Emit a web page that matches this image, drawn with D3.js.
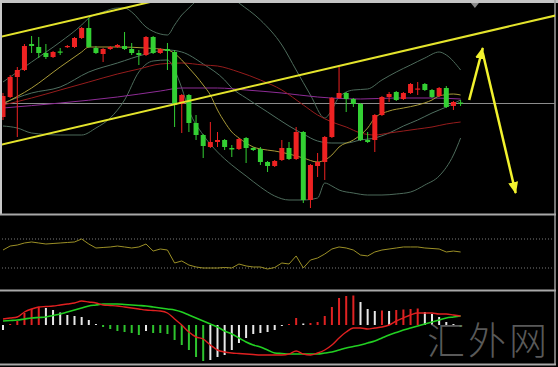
<!DOCTYPE html>
<html>
<head>
<meta charset="utf-8">
<script src="https://cdn.jsdelivr.net/npm/d3@7"></script>
<style>
  body { margin: 0; background: #000; }
  svg { display: block; }
</style>
</head>
<body>
<svg id="chart" width="558" height="367"></svg>
<script>
// candles, price in points (index 0..64)
const opens  = [96,116,136,143,169,166,160,156,161.5,166,166,175,185,165,159,164,166,167,164,160,158,176,160,164,161,109,118,90,78,66,71,73,65,64,75,65,64,51,47,53,65,54,81,13,47,51,76,115,120,114,109,73,73,98,116,121,114,120,123.5,129,123,117,125,107,110.5]
const highs  = [120,138,146,169,177,176,169,162,165,168,176,186,195,167,165,167,169,181,170,163,177,177,165,170,163,119,119,98,79,91,81,74,68,75,76,66,66,52,53,73,71,86,82,49,60,77,116,146,121,115,110,81,99,117,121,122,121,130,131,130,124,126,127,112,113]
const lows   = [93,115,76,142,160,155,154,155,158,165,165,174,165,159,151,163,165,163,158,148,157,159,159,143,86,80,81,73,55,65,66,63,56,63,50,62,48,41,46,52,53,53,10,5,36,33,75,114,101,106,72,70,61,97,111,112,113,119,118,122,115,116,105,103,107]
const closes = [117,136,143,167,167,160,156,161,160.5,167,175,185,166,160,164,166,168,164,160,158,176,160,164,162,108,118,90,78,67,71,73,66,63.5,74,65,63,51,47,52,65,54,81,13,48,51,76,115,120,114,109,73,71,98,116,119,113,120,129,124.5,123,116,125,106,111,109.5]

// overlays read as [candle index, price]
const bbUpper = [[0,131],[4,151],[8,171],[11,188],[12,195],[14,201],[16,205],[17,205],[18,201],[20,186],[22,179],[23,178],[24,188],[25,198],[26,205],[27,212],[29,221],[31,221],[33,210],[36,193],[39,168],[41,143],[43,118],[45,95],[46,103],[47,116],[49,123],[51,124],[53,133],[55,141],[57,148],[59,155],[61,161],[62,158],[64,143]]
const bbMiddle = [[0,110],[4,120],[8,126],[12,141],[16,150],[20,159],[23,163],[25,161],[28,149],[31,133],[32,125],[34,115],[37,101],[40,87],[42,79],[44,72],[46,70],[48,70],[50,73],[52,75],[54,80],[56,87],[58,93],[60,100],[62,106],[64,113]]
const bbLower = [[0,87],[2,85],[4,80],[8,78],[11,78],[13,85],[15,95],[17,113],[19,141],[21,152],[23,153],[24,143],[25,125],[26,103],[28,78],[30,61],[32,48],[34,37],[36,26],[38,17],[40,13],[42,13],[44,15],[45,30],[46,27],[47,23],[49,20],[51,18],[53,18],[55,19],[57,21],[59,28],[61,37],[63,58],[64,75]]
const maFast = [[0,109],[4,125],[8,146],[11,161],[12,166],[16,166],[20,165],[23,163],[25,153],[26,145],[27,137],[28,128],[29,118],[30,103],[31,91],[32,81],[33,75],[34,70],[35,66],[36,64],[38,62],[40,59],[42,55],[44,51],[45,53],[46,58],[47,66],[49,73],[51,85],[52,95],[54,102],[56,105],[58,108],[60,113],[61,117],[63,119],[64,118]]
const maRed = [[0,108],[4,115],[8,123],[12,131],[16,139],[19,144],[22,149],[25,150],[28,148],[30,147],[33,141],[36,133],[39,123],[42,108],[44,98],[46,91],[48,86],[50,80],[52,78],[54,80],[56,82],[58,84],[60,86],[62,89],[64,91]]
const maPurple = [[0,105],[8,110],[16,116],[22,122],[25,125],[30,125],[34,123],[39,120],[44,116],[50,114],[55,115],[60,115],[64,114]]

// drawn channel and forecast arrows
const channelLower = [[-1,67],[78,198.7]]
const channelUpper = [[-1,175],[78,306.7]]
const forecast = [[65.2,113],[67.1,165],[71.7,20]]
const shiftMark = 66

// RSI
const rsi = [54.8,60.3,61.7,64.5,65.9,64.5,63.1,63.8,64.5,65.2,65.9,70,63.1,57.6,58.3,59,60.3,59,57.6,59,63.1,53.4,56.2,54.8,36.9,39.7,34.1,31.4,30,30,30,30.7,30,35.5,32.8,31.4,31.4,28.6,30.7,36.9,35.5,46.6,30,41,43.8,49.3,56.2,59,57.6,54.8,47.9,46.6,52.1,54.8,56.2,57.6,59,59,59,57.6,56.9,56.2,52.1,53.4,52.1]
const rsiLevels = [70, 30]

// MACD
const macdHist = [-5,1,4,12,16,18,17,15,12.5,10,9,8,5,1,-2,-4,-6,-7,-8,-10,-6,-8,-8,-9,-15,-20,-25,-32,-36,-35,-32,-30,-25,-18,-13,-9,-8,-7,-5,-1,1,7,1.5,2,3,9,18,27,29,29.5,23,16,14,14.5,14,15,15.5,16,16.5,13,11,8,3,1,-2]
const macdLine = [6,7,8,13,16,18,18.5,19,20,21,22,24,23,22,20,19.5,19,18,17,16,15,14.5,14,12,6,0,-7,-12,-14,-20,-25,-27,-28,-28.5,-29,-29.5,-30,-30,-30,-30,-29,-26,-29,-30,-28,-25,-20,-13,-7,-3,-3,-4,-3,-2,0,4,7,10,12,12,12,11,11,10,9]
const signalLine = [4,4.5,5,6,7,7.5,8,9.5,11,13,15,17,19,20,21,21,21,20.5,20,19.5,19,18,17,16,15,13,10,7,4,1,-2,-6,-9,-13,-17,-20,-22,-25,-28,-28.5,-29,-29,-29,-29,-29,-28,-27,-25,-23,-21.5,-20,-18,-16,-13,-10,-7.5,-5,-3,-1,1,3,5,7,8,9]

const watermark = '汇外网'

const svg = d3.select('#chart')
const width = 558
const height = 367

const x = d3.scaleLinear().domain([0, 64]).range([3, 460.6])
const yMain = d3.scaleLinear().domain([0, 210]).range([213, 3])
const yOsc = d3.scaleLinear().domain([0, 100]).range([289.75, 217.25])
const yMacd = d3.scaleLinear().domain([-40, 34]).range([365, 291])

svg.append('rect').attr('width', width).attr('height', height).attr('fill', '#000')

const defs = svg.append('defs')
defs.append('clipPath').attr('id', 'clipMain')
  .append('rect').attr('x', 2).attr('y', 3).attr('width', 553).attr('height', 211)
defs.append('marker')
  .attr('id', 'head')
  .attr('viewBox', '0 0 12 10')
  .attr('refX', 11).attr('refY', 5)
  .attr('markerWidth', 12).attr('markerHeight', 10)
  .attr('markerUnits', 'userSpaceOnUse')
  .attr('orient', 'auto')
  .append('path').attr('d', 'M0,0 L12,5 L0,10 Z').attr('fill', '#f2f22e')

// frame
svg.append('rect').attr('x', 0).attr('y', 0).attr('width', width).attr('height', 3).attr('fill', '#c4c4c4')
svg.append('rect').attr('x', 0).attr('y', 0).attr('width', 2).attr('height', 214).attr('fill', '#c8c8c8')
svg.append('line').attr('x1', 555).attr('x2', 555).attr('y1', 0).attr('y2', 365)
  .attr('stroke', '#9c9c9c').attr('stroke-width', 1.5)
;[214.5, 290.5, 364.5].forEach(yy => {
  svg.append('line').attr('x1', 0).attr('x2', 556).attr('y1', yy).attr('y2', yy)
    .attr('stroke', '#a8a8a8').attr('stroke-width', 2)
})

// main panel
const g = svg.append('g').attr('clip-path', 'url(#clipMain)')

const ptLine = d3.line().x(d => x(d[0])).y(d => yMain(d[1])).curve(d3.curveMonotoneX)

g.append('line')
  .attr('x1', 0).attr('x2', 555)
  .attr('y1', yMain(closes[closes.length - 1])).attr('y2', yMain(closes[closes.length - 1]))
  .attr('stroke', '#8c8c8c').attr('stroke-width', 1)

;[[bbUpper, '#4d6b5b'], [bbLower, '#4d6b5b'], [bbMiddle, '#4f6f60'],
  [maPurple, '#8e2c96'], [maRed, '#961c1c'], [maFast, '#a89a38']].forEach(([pts, col]) => {
  g.append('path').datum(pts)
    .attr('d', ptLine)
    .attr('fill', 'none')
    .attr('stroke', col)
    .attr('stroke-width', 1)
})

const idx = d3.range(opens.length)
const upCol = '#ee2222'
const downCol = '#33d033'

g.selectAll('.wick').data(idx)
  .enter().append('line')
  .attr('class', 'wick')
  .attr('x1', i => x(i)).attr('x2', i => x(i))
  .attr('y1', i => yMain(highs[i])).attr('y2', i => yMain(lows[i]))
  .attr('stroke', i => closes[i] >= opens[i] ? upCol : downCol)
  .attr('stroke-width', 1)

g.selectAll('.body').data(idx)
  .enter().append('rect')
  .attr('class', 'body')
  .attr('x', i => x(i) - 2.5)
  .attr('width', 5)
  .attr('y', i => yMain(Math.max(opens[i], closes[i])))
  .attr('height', i => Math.max(1.2, Math.abs(yMain(opens[i]) - yMain(closes[i]))))
  .attr('fill', i => closes[i] >= opens[i] ? upCol : downCol)

// channel
;[channelLower, channelUpper].forEach(c => {
  g.append('line')
    .attr('x1', x(c[0][0])).attr('y1', yMain(c[0][1]))
    .attr('x2', x(c[1][0])).attr('y2', yMain(c[1][1]))
    .attr('stroke', '#e4e42c').attr('stroke-width', 2)
})

// forecast arrows
for (let k = 0; k < forecast.length - 1; k++) {
  const a = forecast[k], b = forecast[k + 1]
  const sx = k === 0 ? 0 : 0
  g.append('line')
    .attr('x1', x(a[0])).attr('y1', yMain(a[1]) + (k === 1 ? 5 : 0))
    .attr('x2', x(b[0])).attr('y2', yMain(b[1]))
    .attr('stroke', '#f2f22e').attr('stroke-width', 2.5)
    .attr('marker-end', 'url(#head)')
}

// chart shift marker
svg.append('path')
  .attr('d', `M${x(shiftMark) - 4},3 L${x(shiftMark) + 4},3 L${x(shiftMark)},8 Z`)
  .attr('fill', '#8a8a8a')

// RSI panel
rsiLevels.forEach(l => {
  svg.append('line')
    .attr('x1', 2).attr('x2', 554)
    .attr('y1', yOsc(l)).attr('y2', yOsc(l))
    .attr('stroke', '#7a7a7a').attr('stroke-width', 1)
    .attr('stroke-dasharray', '1,2')
})
svg.append('path').datum(rsi)
  .attr('d', d3.line().x((d, i) => x(i)).y(d => yOsc(d)))
  .attr('fill', 'none')
  .attr('stroke', '#9c9026')
  .attr('stroke-width', 1)

// MACD panel
const histColor = (v, i) => {
  const p = i > 0 ? macdHist[i - 1] : null
  if (p === null) return '#e8e8e8'
  if (v >= 0) return v >= p ? '#e02222' : '#e8e8e8'
  return v <= p ? '#2ec42e' : '#e8e8e8'
}
svg.selectAll('.hist').data(macdHist)
  .enter().append('line')
  .attr('class', 'hist')
  .attr('x1', (d, i) => x(i)).attr('x2', (d, i) => x(i))
  .attr('y1', yMacd(0))
  .attr('y2', d => yMacd(d) + (Math.abs(d) < 1 ? (d < 0 ? 1 : -1) : 0))
  .attr('stroke', (d, i) => histColor(d, i))
  .attr('stroke-width', 2)

svg.append('path').datum(signalLine)
  .attr('d', d3.line().x((d, i) => x(i)).y(d => yMacd(d)).curve(d3.curveMonotoneX))
  .attr('fill', 'none').attr('stroke', '#22d022').attr('stroke-width', 1.6)
svg.append('path').datum(macdLine)
  .attr('d', d3.line().x((d, i) => x(i)).y(d => yMacd(d)).curve(d3.curveMonotoneX))
  .attr('fill', 'none').attr('stroke', '#e02020').attr('stroke-width', 1.4)

// watermark
svg.append('text')
  .attr('x', 427).attr('y', 354)
  .attr('font-family', '"Noto Sans CJK SC", sans-serif')
  .attr('font-size', 38)
  .attr('font-weight', 300)
  .attr('letter-spacing', 3)
  .attr('fill', '#6a6a6a')
  .attr('fill-opacity', 0.85)
  .text(watermark)
</script>
</body>
</html>
